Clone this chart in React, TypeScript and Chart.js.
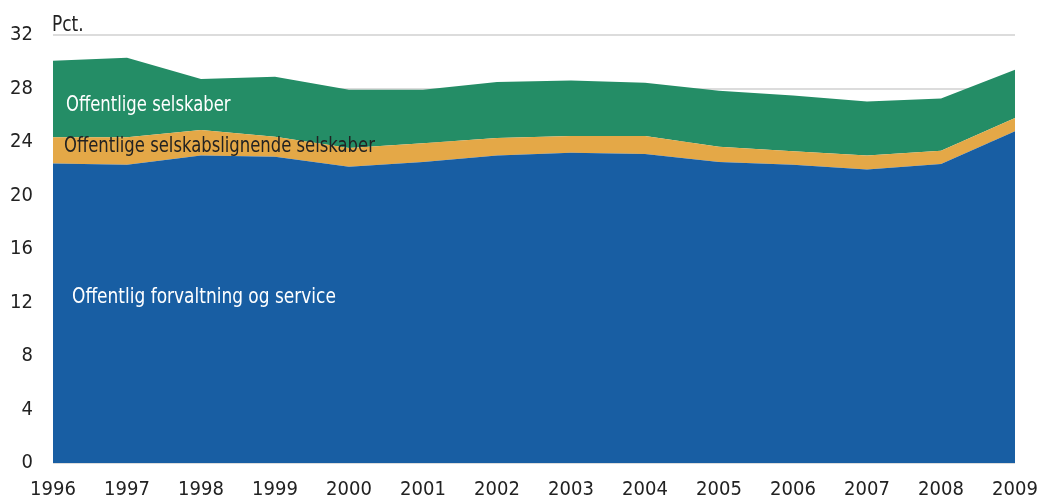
import React, { useEffect, useRef } from "react";
import { Chart, registerables } from "chart.js";

Chart.register(...registerables);

const years = ["1996","1997","1998","1999","2000","2001","2002","2003","2004","2005","2006","2007","2008","2009"];
const forvaltning = [22.4, 22.3, 23.0, 22.9, 22.15, 22.5, 23.0, 23.2, 23.1, 22.5, 22.3, 21.95, 22.35, 24.8];
const selskabslignende = [1.95, 2.05, 1.9, 1.5, 1.4, 1.4, 1.3, 1.25, 1.35, 1.15, 1.0, 1.05, 1.0, 1.0];
const selskaber = [5.73, 5.95, 3.81, 4.48, 4.35, 4.0, 4.18, 4.15, 3.98, 4.19, 4.18, 4.02, 3.91, 3.61];
const yTicks = [0, 4, 8, 12, 16, 20, 24, 28, 32];

const FONT = "'Liberation Sans Narrow', 'DejaVu Sans Condensed', 'Noto Sans', sans-serif";

function narrowText(ctx: any, text: string, x: number, y: number, sx: number) {
  ctx.save();
  ctx.translate(x, y);
  ctx.scale(sx, 1);
  ctx.fillText(text, 0, 0);
  ctx.restore();
}

const labelsPlugin = {
  id: "areaLabels",
  afterDatasetsDraw(chart: any) {
    const { ctx, scales } = chart;
    const x0 = scales.x.getPixelForValue(0);
    ctx.save();
    ctx.font = `21px ${FONT}`;
    ctx.textBaseline = "middle";
    ctx.textAlign = "left";
    ctx.fillStyle = "#ffffff";
    narrowText(ctx, "Offentlige selskaber", x0 + 13, scales.y.getPixelForValue(26.7), 0.87);
    ctx.fillStyle = "#222222";
    narrowText(ctx, "Offentlige selskabslignende selskaber", x0 + 11, scales.y.getPixelForValue(23.65), 0.87);
    ctx.fillStyle = "#ffffff";
    narrowText(ctx, "Offentlig forvaltning og service", x0 + 19, scales.y.getPixelForValue(12.35), 0.9);
    ctx.fillStyle = "#222222";
    narrowText(ctx, "Pct.", x0 - 1, scales.y.getPixelForValue(32) - 9, 0.9);
    ctx.restore();
  },
};

export default function App() {
  const ref = useRef<HTMLCanvasElement>(null);
  useEffect(() => {
    if (!ref.current) return;
    const chart = new Chart(ref.current, {
      type: "line",
      data: {
        labels: years,
        datasets: [
          {
            label: "Offentlig forvaltning og service",
            data: forvaltning,
            backgroundColor: "#185ea3",
            borderWidth: 0,
            pointRadius: 0,
            fill: "origin",
          },
          {
            label: "Offentlige selskabslignende selskaber",
            data: selskabslignende,
            backgroundColor: "#e4a847",
            borderWidth: 0,
            pointRadius: 0,
            fill: "-1",
          },
          {
            label: "Offentlige selskaber",
            data: selskaber,
            backgroundColor: "#248d66",
            borderWidth: 0,
            pointRadius: 0,
            fill: "-1",
          },
        ],
      },
      options: {
        animation: false,
        responsive: false,
        maintainAspectRatio: false,
        layout: { padding: { left: 0, right: 24, top: 35, bottom: 0 } },
        plugins: { legend: { display: false }, tooltip: { enabled: false } },
        scales: {
          x: {
            offset: false,
            grid: { display: false, drawTicks: false },
            border: { display: false },
            ticks: {
              color: "#222222",
              font: { family: FONT, size: 20 },
              padding: 15,
              maxRotation: 0,
              autoSkip: false,
            },
            afterFit: (s: any) => {
              s.height = 38;
              s.paddingLeft = 0;
              s.paddingRight = 0;
            },
          },
          y: {
            stacked: true,
            min: 0,
            max: 32,
            afterBuildTicks: (s: any) => {
              s.ticks = yTicks.map((v) => ({ value: v }));
            },
            grid: { color: "#dcdcdc", lineWidth: 2, drawTicks: false },
            border: { display: false },
            ticks: {
              color: "#222222",
              font: { family: FONT, size: 20 },
              padding: 20,
            },
            afterFit: (s: any) => {
              s.width = 53;
            },
          },
        },
      },
      plugins: [labelsPlugin],
    });
    return () => chart.destroy();
  }, []);
  return (
    <div style={{ position: "fixed", left: 0, top: 0, width: 1039, height: 501, background: "#fff" }}>
      <canvas ref={ref} width={1039} height={501} />
    </div>
  );
}
